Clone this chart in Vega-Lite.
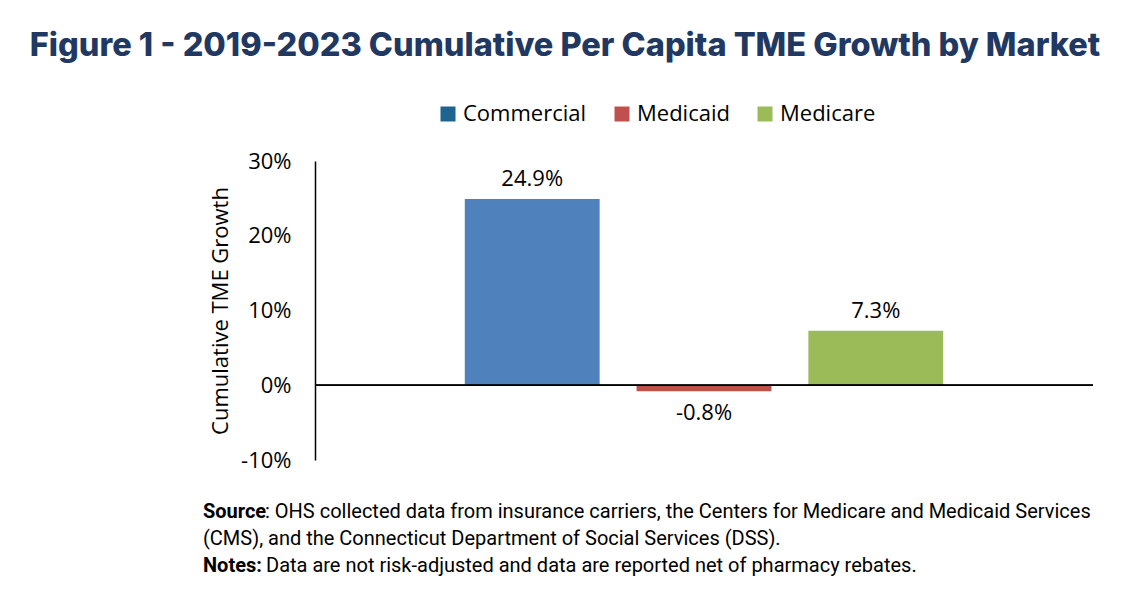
{
  "$schema": "https://vega.github.io/schema/vega-lite/v6.json",
  "background": "white",
  "padding": {"left": 29, "top": 29, "right": 10, "bottom": 10},
  "title": {
    "text": "Figure 1 - 2019-2023 Cumulative Per Capita TME Growth by Market",
    "font": "Inter",
    "fontWeight": 800,
    "fontSize": 32.5,
    "color": "#213862",
    "anchor": "middle",
    "dx": -139,
    "offset": 41
  },
  "config": {
    "view": {"stroke": null},
    "font": "Open Sans"
  },
  "spacing": 27,
  "vconcat": [
    {
      "width": 778,
      "height": 299,
      "data": {
        "values": [
          {"market": "Commercial", "growth": 0.249, "label": "24.9%"},
          {"market": "Medicaid", "growth": -0.008, "label": "-0.8%"},
          {"market": "Medicare", "growth": 0.073, "label": "7.3%"}
        ]
      },
      "layer": [
        {
          "mark": {"type": "bar"},
          "encoding": {
            "x": {
              "field": "market",
              "type": "nominal",
              "sort": ["Commercial", "Medicaid", "Medicare"],
              "scale": {"paddingInner": 0.215, "paddingOuter": 0.872},
              "axis": null
            },
            "y": {
              "field": "growth",
              "type": "quantitative",
              "scale": {"domain": [-0.1, 0.3], "nice": false, "zero": false},
              "axis": {
                "format": ".0%",
                "values": [-0.1, 0, 0.1, 0.2, 0.3],
                "labelExpr": "replace(datum.label, '\u2212', '-')",
                "title": "Cumulative TME Growth",
                "grid": false,
                "ticks": false,
                "domainColor": "#000000",
                "domainWidth": 1.5,
                "labelFont": "Open Sans",
                "labelFontSize": 22,
                "labelColor": "#000000",
                "labelPadding": 24,
                "titleFont": "Open Sans",
                "titleFontSize": 22,
                "titleFontWeight": "normal",
                "titleColor": "#000000",
                "titlePadding": 8
              }
            },
            "fill": {
              "condition": {"test": "datum.market === 'Commercial'", "value": "#4F81BD"},
              "field": "market",
              "type": "nominal",
              "scale": {"domain": ["Commercial", "Medicaid", "Medicare"], "range": ["#1F6391", "#C0504D", "#9BBB59"]},
              "legend": {
                "orient": "none",
                "direction": "horizontal",
                "legendX": 122,
                "legendY": -58,
                "title": null,
                "symbolType": "square",
                "symbolSize": 225,
                "symbolStrokeWidth": 0,
                "labelFont": "Open Sans",
                "labelFontSize": 22,
                "labelColor": "#000000",
                "labelOffset": 4,
                "columnPadding": 24
              }
            }
          }
        },
        {
          "mark": {"type": "rule", "color": "#000000", "strokeWidth": 1.5},
          "encoding": {"y": {"datum": 0, "type": "quantitative"}}
        },
        {
          "transform": [{"filter": "datum.growth >= 0"}],
          "mark": {"type": "text", "baseline": "bottom", "dy": -8, "font": "Open Sans", "fontSize": 22, "color": "#000000"},
          "encoding": {
            "x": {"field": "market", "type": "nominal", "sort": ["Commercial", "Medicaid", "Medicare"]},
            "y": {"field": "growth", "type": "quantitative"},
            "text": {"field": "label"}
          }
        },
        {
          "transform": [{"filter": "datum.growth < 0"}],
          "mark": {"type": "text", "baseline": "top", "dy": 12, "font": "Open Sans", "fontSize": 22, "color": "#000000"},
          "encoding": {
            "x": {"field": "market", "type": "nominal", "sort": ["Commercial", "Medicaid", "Medicare"]},
            "y": {"field": "growth", "type": "quantitative"},
            "text": {"field": "label"}
          }
        }
      ]
    },
    {
      "width": 890,
      "height": 81,
      "data": {
        "values": [
          {"line": 1, "bold": "Source", "text": ": OHS collected data from insurance carriers, the Centers for Medicare and Medicaid Services"},
          {"line": 2, "bold": "", "text": "(CMS), and the Connecticut Department of Social Services (DSS)."},
          {"line": 3, "bold": "Notes:", "text": "Data are not risk-adjusted and data are reported net of pharmacy rebates."}
        ]
      },
      "encoding": {
        "x": {"datum": 0, "type": "quantitative", "scale": {"domain": [0, 1]}, "axis": null},
        "y": {"field": "line", "type": "ordinal", "axis": null, "scale": {"paddingInner": 0, "paddingOuter": 0}}
      },
      "layer": [
        {
          "transform": [{"filter": "datum.line != 2"}],
          "mark": {"type": "text", "align": "left", "dx": -112, "font": "Roboto", "fontWeight": "bold", "fontSize": 20, "color": "#000000"},
          "encoding": {"text": {"field": "bold"}}
        },
        {
          "transform": [{"filter": "datum.line == 1"}],
          "mark": {"type": "text", "align": "left", "dx": -50, "font": "Roboto", "fontSize": 20, "color": "#000000"},
          "encoding": {"text": {"field": "text"}}
        },
        {
          "transform": [{"filter": "datum.line == 2"}],
          "mark": {"type": "text", "align": "left", "dx": -112, "font": "Roboto", "fontSize": 20, "color": "#000000"},
          "encoding": {"text": {"field": "text"}}
        },
        {
          "transform": [{"filter": "datum.line == 3"}],
          "mark": {"type": "text", "align": "left", "dx": -49, "font": "Roboto", "fontSize": 20, "color": "#000000"},
          "encoding": {"text": {"field": "text"}}
        }
      ]
    }
  ]
}
